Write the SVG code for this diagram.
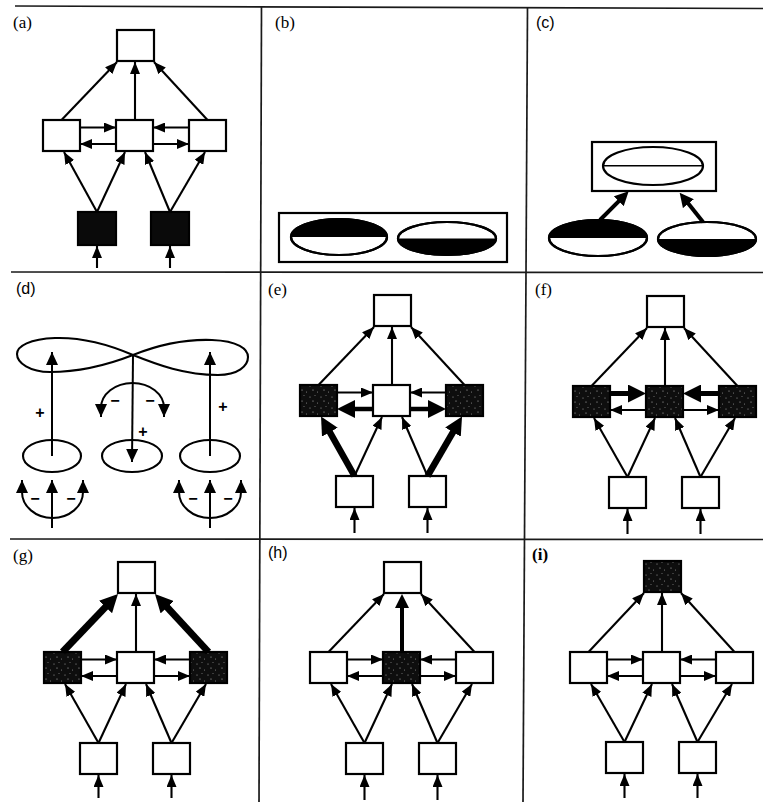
<svg xmlns="http://www.w3.org/2000/svg" width="763" height="802" viewBox="0 0 763 802">
  <style>
    .bg { fill: #ffffff; }
    .grid { stroke: #1a1a1a; stroke-width: 1.7; fill: none; }
    .box { fill: #ffffff; stroke: #000; stroke-width: 2.2; }
    .dark { fill: url(#stip); stroke: #000; stroke-width: 2.2; }
    .black { fill: #0a0a0a; stroke: #000; stroke-width: 2.2; }
    .ln { stroke: #000; stroke-width: 2.1; fill: none; marker-end: url(#ah); }
    .thick { stroke: #000; fill: none; marker-end: url(#ahL); }
    .med { stroke: #000; fill: none; stroke-width: 4; marker-end: url(#ahM); }
    .dl { stroke: #000; stroke-width: 2.1; fill: none; }
    .darr { stroke: #000; stroke-width: 2; fill: none; marker-end: url(#ahd); }
    .darr2 { stroke: #000; stroke-width: 2; fill: none; marker-start: url(#ahd); marker-end: url(#ahd); }
    .ell { fill: #ffffff; stroke: #000; stroke-width: 2.2; }
    .half { fill: #000; stroke: none; }
    .lab { font-family: "Liberation Serif", "Times New Roman", serif; font-size: 17px; fill: #000; }
    .labs { font-family: "Liberation Sans", Arial, sans-serif; font-size: 16px; fill: #000; }
    .sign { font-family: "Liberation Sans", Arial, sans-serif; font-size: 16px; font-weight: bold; fill: #000; text-anchor: middle; }
  </style>
  <defs>
    <pattern id="stip" patternUnits="userSpaceOnUse" width="11" height="11">
      <rect width="11" height="11" fill="#0e0e0e"/>
      <circle cx="2" cy="3" r="0.55" fill="#aaa"/>
      <circle cx="7" cy="1.5" r="0.5" fill="#888"/>
      <circle cx="5" cy="7" r="0.6" fill="#bbb"/>
      <circle cx="9.5" cy="9" r="0.5" fill="#999"/>
    </pattern>
    <marker id="ah" markerUnits="userSpaceOnUse" markerWidth="12" markerHeight="10" refX="12" refY="5" orient="auto">
      <path d="M0,0 L12,5 L0,10 z" fill="#000"/>
    </marker>
    <marker id="ahL" markerUnits="userSpaceOnUse" markerWidth="18" markerHeight="18" refX="5" refY="9" orient="auto">
      <path d="M0,0 L18,9 L0,18 z" fill="#000"/>
    </marker>
    <marker id="ahM" markerUnits="userSpaceOnUse" markerWidth="14" markerHeight="14" refX="4" refY="7" orient="auto">
      <path d="M0,0 L14,7 L0,14 z" fill="#000"/>
    </marker>
    <marker id="ahd" markerUnits="userSpaceOnUse" markerWidth="13" markerHeight="12" refX="13" refY="6" orient="auto-start-reverse">
      <path d="M0,0 L13,6 L0,12 z" fill="#000"/>
    </marker>
  </defs>

  <rect class="bg" x="0" y="0" width="763" height="802"/>

  <!-- panel frame lines -->
  <g id="frame">
    <path class="grid" d="M15,6 L763,8.5"/>
    <path class="grid" d="M11,272 L763,272.5"/>
    <path class="grid" d="M10,539 L763,539.5"/>
    <path class="grid" d="M261.5,6 L259,802"/>
    <path class="grid" d="M527.5,8 L523,802"/>
  </g>

  <!-- labels -->
  <g id="labels">
    <text class="lab" x="13" y="28">(a)</text>
    <text class="lab" x="275" y="28">(b)</text>
    <text class="labs" x="536" y="28">(c)</text>
    <text class="labs" x="16" y="294">(d)</text>
    <text class="lab" x="268" y="295">(e)</text>
    <text class="lab" x="535" y="295">(f)</text>
    <text class="lab" x="13" y="561">(g)</text>
    <text class="labs" x="268" y="558">(h)</text>
    <text class="lab" x="532" y="560" font-weight="bold">(i)</text>
  </g>

  <!-- (a) network: inputs drive the dark bottom units -->
  <g id="panel-a" transform="translate(117,30)">
    <g id="a-top"><rect class="box" x="0" y="0" width="37" height="31"/></g>
    <g id="a-ml"><rect class="box" x="-74" y="90" width="37" height="31"/></g>
    <g id="a-mc"><rect class="box" x="-1" y="90" width="37" height="31"/></g>
    <g id="a-mr"><rect class="box" x="72" y="90" width="37" height="31"/></g>
    <g id="a-bl"><rect class="black" x="-39" y="182" width="38" height="33"/></g>
    <g id="a-br"><rect class="black" x="34" y="182" width="38" height="33"/></g>
    <g id="a-links">
      <path class="ln" d="M-55.5,90 L0,32"/>
      <path class="ln" d="M18,90 L18,32"/>
      <path class="ln" d="M90.5,90 L37,32"/>
      <path class="ln" d="M-37,97.5 L-1,97.5"/>
      <path class="ln" d="M72,97.5 L36,97.5"/>
      <path class="ln" d="M-1,114 L-37,114"/>
      <path class="ln" d="M36,114 L72,114"/>
      <path class="ln" d="M-20,182 L-53,122"/>
      <path class="ln" d="M-20,182 L8,122"/>
      <path class="ln" d="M53,182 L28,122"/>
      <path class="ln" d="M53,182 L88,122"/>
      <path class="ln" d="M-20,238 L-20,216"/>
      <path class="ln" d="M53,238 L53,216"/>
    </g>
  </g>

  <!-- (b) two half-filled ellipses in a frame -->
  <g id="panel-b">
    <g id="b-frame"><rect x="279" y="213" width="228" height="49" fill="none" stroke="#000" stroke-width="2.2"/></g>
    <g id="b-left">
      <ellipse class="ell" cx="339" cy="237" rx="48" ry="18"/>
      <path class="half" d="M291,237 A48,18 0 0 1 387,237 Z"/>
      <ellipse cx="339" cy="237" rx="48" ry="18" fill="none" stroke="#000" stroke-width="2.2"/>
    </g>
    <g id="b-right">
      <ellipse class="ell" cx="447" cy="238.5" rx="49" ry="16.5"/>
      <path class="half" d="M398,238.5 A49,16.5 0 0 0 496,238.5 Z"/>
      <ellipse cx="447" cy="238.5" rx="49" ry="16.5" fill="none" stroke="#000" stroke-width="2.2"/>
    </g>
  </g>

  <!-- (c) the two halves combine into one framed ellipse -->
  <g id="panel-c">
    <g id="c-top">
      <rect x="592" y="142" width="124" height="49" fill="#fff" stroke="#000" stroke-width="2.2"/>
      <ellipse class="ell" cx="653" cy="166" rx="50" ry="19"/>
      <path d="M603,165.7 L703,165.7" stroke="#000" stroke-width="1.4"/>
    </g>
    <g id="c-left">
      <ellipse class="ell" cx="598" cy="238" rx="49" ry="18"/>
      <path class="half" d="M549,238 A49,18 0 0 1 647,238 Z"/>
      <ellipse cx="598" cy="238" rx="49" ry="18" fill="none" stroke="#000" stroke-width="2.2"/>
    </g>
    <g id="c-right">
      <ellipse class="ell" cx="707" cy="239" rx="49" ry="17"/>
      <path class="half" d="M658,239 A49,17 0 0 0 756,239 Z"/>
      <ellipse cx="707" cy="239" rx="49" ry="17" fill="none" stroke="#000" stroke-width="2.2"/>
    </g>
    <g id="c-links">
      <path class="med" d="M600,220 L621.6,198.4"/>
      <path class="med" d="M703,222 L685.9,200.6"/>
    </g>
  </g>

  <!-- (d) figure-eight with excitatory/inhibitory paths -->
  <g id="panel-d">
    <g id="d-loop">
      <path class="dl" d="M133,355 C110,345 85,337 55,338 C30,339 17,346 17,354 C17,363 30,372 50,372 C80,372 110,364 133,355 C158,345 185,339 212,340 C238,341 248,349 248,357 C248,366 238,375 218,375 C185,375 158,365 133,355 Z"/>
    </g>
    <g id="d-e1"><ellipse cx="52" cy="456" rx="29" ry="16" fill="#fff" stroke="#000" stroke-width="2.1"/></g>
    <g id="d-e2"><ellipse cx="132" cy="456" rx="30" ry="16" fill="#fff" stroke="#000" stroke-width="2.1"/></g>
    <g id="d-e3"><ellipse cx="210" cy="456" rx="30" ry="16" fill="#fff" stroke="#000" stroke-width="2.1"/></g>
    <g id="d-links">
      <path class="darr" d="M52,456 L52,352"/>
      <path class="darr" d="M210,456 L210,352"/>
      <path class="darr" d="M133,355 L132,462"/>
      <path class="darr2" d="M101,417 L101,408 A31.5,25 0 0 1 164,408 L164,417"/>
      <path class="darr" d="M52,528 L52,480"/>
      <path class="darr2" d="M22,480 L22,492 A30.5,26 0 0 0 83,492 L83,480"/>
      <path class="darr" d="M210,528 L210,480"/>
      <path class="darr2" d="M179,480 L179,492 A31,26 0 0 0 241,492 L241,480"/>
    </g>
    <g id="d-signs">
      <text class="sign" x="40" y="418">+</text>
      <text class="sign" x="223" y="412">+</text>
      <text class="sign" x="143" y="437">+</text>
      <text class="sign" x="115" y="406">−</text>
      <text class="sign" x="150" y="406">−</text>
      <text class="sign" x="35" y="504">−</text>
      <text class="sign" x="71" y="504">−</text>
      <text class="sign" x="193" y="504">−</text>
      <text class="sign" x="228" y="504">−</text>
    </g>
  </g>

  <!-- (e) strong feed-forward to the side units -->
  <g id="panel-e" transform="translate(374,295)">
    <g id="e-top"><rect class="box" x="0" y="0" width="37" height="31"/></g>
    <g id="e-ml"><rect class="dark" x="-74" y="90" width="37" height="31"/></g>
    <g id="e-mc"><rect class="box" x="-1" y="90" width="37" height="31"/></g>
    <g id="e-mr"><rect class="dark" x="72" y="90" width="37" height="31"/></g>
    <g id="e-bl"><rect class="box" x="-38" y="181" width="37" height="31"/></g>
    <g id="e-br"><rect class="box" x="35" y="181" width="37" height="31"/></g>
    <g id="e-links">
      <path class="ln" d="M-55.5,90 L0,32"/>
      <path class="ln" d="M18,90 L18,32"/>
      <path class="ln" d="M90.5,90 L37,32"/>
      <path class="ln" d="M-37,97.5 L-1,97.5"/>
      <path class="ln" d="M72,97.5 L36,97.5"/>
      <path class="thick" stroke-width="4.5" d="M-1,114 L-24,114"/>
      <path class="thick" stroke-width="4.5" d="M36,114 L59,114"/>
      <path class="thick" stroke-width="6.5" d="M-19.5,181 L-46.6,132.8"/>
      <path class="ln" d="M-19.5,181 L8,122"/>
      <path class="ln" d="M53.5,181 L28,122"/>
      <path class="thick" stroke-width="6.5" d="M53.5,181 L81.5,132.8"/>
      <path class="ln" d="M-19.5,238 L-19.5,213"/>
      <path class="ln" d="M53.5,238 L53.5,213"/>
    </g>
  </g>

  <!-- (f) strong lateral drive into the centre unit -->
  <g id="panel-f" transform="translate(647,296)">
    <g id="f-top"><rect class="box" x="0" y="0" width="37" height="31"/></g>
    <g id="f-ml"><rect class="dark" x="-74" y="90" width="37" height="31"/></g>
    <g id="f-mc"><rect class="dark" x="-1" y="90" width="37" height="31"/></g>
    <g id="f-mr"><rect class="dark" x="72" y="90" width="37" height="31"/></g>
    <g id="f-bl"><rect class="box" x="-38" y="181" width="37" height="31"/></g>
    <g id="f-br"><rect class="box" x="35" y="181" width="37" height="31"/></g>
    <g id="f-links">
      <path class="ln" d="M-55.5,90 L0,32"/>
      <path class="ln" d="M18,90 L18,32"/>
      <path class="ln" d="M90.5,90 L37,32"/>
      <path class="thick" stroke-width="5" d="M-37,97.5 L-14,97.5"/>
      <path class="thick" stroke-width="5" d="M72,97.5 L49,97.5"/>
      <path class="ln" d="M-1,114 L-37,114"/>
      <path class="ln" d="M36,114 L72,114"/>
      <path class="ln" d="M-19.5,181 L-53,122"/>
      <path class="ln" d="M-19.5,181 L8,122"/>
      <path class="ln" d="M53.5,181 L28,122"/>
      <path class="ln" d="M53.5,181 L88,122"/>
      <path class="ln" d="M-19.5,238 L-19.5,213"/>
      <path class="ln" d="M53.5,238 L53.5,213"/>
    </g>
  </g>

  <!-- (g) side units drive the top unit strongly -->
  <g id="panel-g" transform="translate(118,562)">
    <g id="g-top"><rect class="box" x="0" y="0" width="37" height="31"/></g>
    <g id="g-ml"><rect class="dark" x="-74" y="90" width="37" height="31"/></g>
    <g id="g-mc"><rect class="box" x="-1" y="90" width="37" height="31"/></g>
    <g id="g-mr"><rect class="dark" x="72" y="90" width="37" height="31"/></g>
    <g id="g-bl"><rect class="box" x="-38" y="181" width="37" height="31"/></g>
    <g id="g-br"><rect class="box" x="35" y="181" width="37" height="31"/></g>
    <g id="g-links">
      <path class="thick" stroke-width="7" d="M-55.5,90 L-9,41.4"/>
      <path class="ln" d="M18,90 L18,32"/>
      <path class="thick" stroke-width="7" d="M90.5,90 L45.8,41.6"/>
      <path class="ln" d="M-37,97.5 L-1,97.5"/>
      <path class="ln" d="M72,97.5 L36,97.5"/>
      <path class="ln" d="M-1,114 L-37,114"/>
      <path class="ln" d="M36,114 L72,114"/>
      <path class="ln" d="M-19.5,181 L-53,122"/>
      <path class="ln" d="M-19.5,181 L8,122"/>
      <path class="ln" d="M53.5,181 L28,122"/>
      <path class="ln" d="M53.5,181 L88,122"/>
      <path class="ln" d="M-19.5,236 L-19.5,213"/>
      <path class="ln" d="M53.5,236 L53.5,213"/>
    </g>
  </g>

  <!-- (h) centre unit drives the top unit -->
  <g id="panel-h" transform="translate(384,562)">
    <g id="h-top"><rect class="box" x="0" y="0" width="37" height="31"/></g>
    <g id="h-ml"><rect class="box" x="-74" y="90" width="37" height="31"/></g>
    <g id="h-mc"><rect class="dark" x="-1" y="90" width="37" height="31"/></g>
    <g id="h-mr"><rect class="box" x="72" y="90" width="37" height="31"/></g>
    <g id="h-bl"><rect class="box" x="-38" y="181" width="37" height="31"/></g>
    <g id="h-br"><rect class="box" x="35" y="181" width="37" height="31"/></g>
    <g id="h-links">
      <path class="ln" d="M-55.5,90 L0,32"/>
      <path class="med" d="M18,90 L18,42"/>
      <path class="ln" d="M90.5,90 L37,32"/>
      <path class="ln" d="M-37,97.5 L-1,97.5"/>
      <path class="ln" d="M72,97.5 L36,97.5"/>
      <path class="ln" d="M-1,114 L-37,114"/>
      <path class="ln" d="M36,114 L72,114"/>
      <path class="ln" d="M-19.5,181 L-53,122"/>
      <path class="ln" d="M-19.5,181 L8,122"/>
      <path class="ln" d="M53.5,181 L28,122"/>
      <path class="ln" d="M53.5,181 L88,122"/>
      <path class="ln" d="M-19.5,238 L-19.5,213"/>
      <path class="ln" d="M53.5,238 L53.5,213"/>
    </g>
  </g>

  <!-- (i) top unit active -->
  <g id="panel-i" transform="translate(644,561)">
    <g id="i-top"><rect class="dark" x="0" y="0" width="37" height="31"/></g>
    <g id="i-ml"><rect class="box" x="-74" y="91" width="37" height="31"/></g>
    <g id="i-mc"><rect class="box" x="-1" y="91" width="37" height="31"/></g>
    <g id="i-mr"><rect class="box" x="72" y="91" width="37" height="31"/></g>
    <g id="i-bl"><rect class="box" x="-38" y="181" width="37" height="31"/></g>
    <g id="i-br"><rect class="box" x="35" y="181" width="37" height="31"/></g>
    <g id="i-links">
      <path class="ln" d="M-55.5,91 L0,32"/>
      <path class="ln" d="M18,91 L18,32"/>
      <path class="ln" d="M90.5,91 L37,32"/>
      <path class="ln" d="M-37,98.5 L-1,98.5"/>
      <path class="ln" d="M72,98.5 L36,98.5"/>
      <path class="ln" d="M-1,115 L-37,115"/>
      <path class="ln" d="M36,115 L72,115"/>
      <path class="ln" d="M-19.5,181 L-53,123"/>
      <path class="ln" d="M-19.5,181 L8,123"/>
      <path class="ln" d="M53.5,181 L28,123"/>
      <path class="ln" d="M53.5,181 L88,123"/>
      <path class="ln" d="M-19.5,237 L-19.5,213"/>
      <path class="ln" d="M53.5,237 L53.5,213"/>
    </g>
  </g>
</svg>
